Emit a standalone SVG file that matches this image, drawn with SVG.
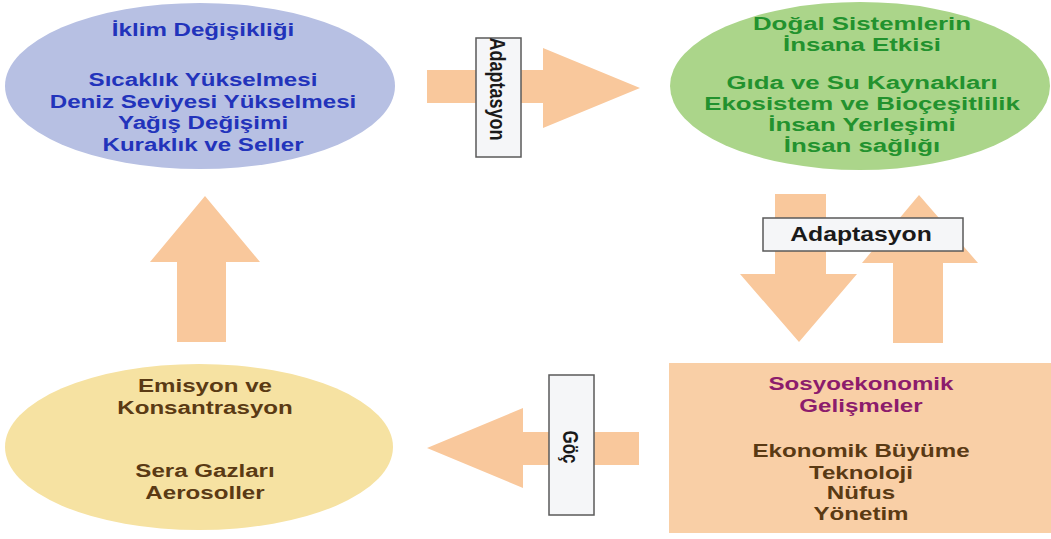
<svg xmlns="http://www.w3.org/2000/svg" width="1051" height="539" viewBox="0 0 1051 539">
<style>
text{font-family:"Liberation Sans",Arial,sans-serif;font-weight:bold;text-anchor:middle}
.arrow{fill:#f9c89c}
.lbl{fill:#f5f6f8;stroke:#5a5a5a;stroke-width:1.5}
.lt{fill:#1a1a1a;font-size:19px}
.blue{fill:#2233bb;font-size:19px}
.green{fill:#22922e;font-size:19px}
.brown{fill:#5a3a14;font-size:19px}
.mag{fill:#8c1c6c;font-size:19px}
</style>
<rect width="1051" height="539" fill="#ffffff"/>
<g id="connectors">
  <polygon class="arrow" points="427,70 543,70 543,48 640,88 543,128 543,103 427,103"/>
  <rect class="lbl" x="476" y="38" width="45" height="119"/>
  <text class="lt" transform="translate(498,89) scale(1.27,1) rotate(90)" dy="0.36em" style="font-size:18px">Adaptasyon</text>
  <polygon class="arrow" points="775,194 826,194 826,274 857,274 799,342 740,274 775,274"/>
  <polygon class="arrow" points="893,343 943,343 943,263 978,263 919,195 862,263 893,263"/>
  <rect class="lbl" x="763" y="218" width="200" height="33"/>
  <text class="lt" transform="translate(861,241) scale(1.27,1)" x="0" y="0" style="font-size:19.5px">Adaptasyon</text>
  <polygon class="arrow" points="177,342 226,342 226,262 260,262 205,196 150,262 177,262"/>
  <polygon class="arrow" points="639,432 639,465 523,465 523,488 427,448 523,408 523,432"/>
  <rect class="lbl" x="549" y="375" width="45" height="140"/>
  <text class="lt" transform="translate(571,447) scale(1.27,1) rotate(90)" dy="0.36em" style="font-size:17px">Göç</text>
</g>
<g id="climate">
  <ellipse cx="200" cy="86" rx="195" ry="83" fill="#b7c0e3"/>
  <g transform="translate(203,0) scale(1.27,1)">
    <text class="blue" x="0" y="36">İklim Değişikliği</text>
    <text class="blue" x="0" y="86">Sıcaklık Yükselmesi</text>
    <text class="blue" x="0" y="108">Deniz Seviyesi Yükselmesi</text>
    <text class="blue" x="0" y="129">Yağış Değişimi</text>
    <text class="blue" x="0" y="151">Kuraklık ve Seller</text>
  </g>
</g>
<g id="natural">
  <ellipse cx="860" cy="86" rx="190" ry="84" fill="#abd58a"/>
  <g transform="translate(862,0) scale(1.36,1)">
    <text class="green" x="0" y="30">Doğal Sistemlerin</text>
    <text class="green" x="0" y="51">İnsana Etkisi</text>
    <text class="green" x="0" y="89">Gıda ve Su Kaynakları</text>
    <text class="green" x="0" y="110">Ekosistem ve Bioçeşitlilik</text>
    <text class="green" x="0" y="131">İnsan Yerleşimi</text>
    <text class="green" x="0" y="152">İnsan sağlığı</text>
  </g>
</g>
<g id="emission">
  <ellipse cx="199" cy="447" rx="194" ry="83" fill="#f6e2a2"/>
  <g transform="translate(205,0) scale(1.27,1)">
    <text class="brown" x="0" y="392">Emisyon ve</text>
    <text class="brown" x="0" y="414">Konsantrasyon</text>
    <text class="brown" x="0" y="477">Sera Gazları</text>
    <text class="brown" x="0" y="499">Aerosoller</text>
  </g>
</g>
<g id="socio">
  <rect x="669" y="363" width="382" height="170" fill="#f9cfa6"/>
  <g transform="translate(861,0) scale(1.27,1)">
    <text class="mag" x="0" y="390">Sosyoekonomik</text>
    <text class="mag" x="0" y="412">Gelişmeler</text>
    <text class="brown" x="0" y="457">Ekonomik Büyüme</text>
    <text class="brown" x="0" y="479">Teknoloji</text>
    <text class="brown" x="0" y="499">Nüfus</text>
    <text class="brown" x="0" y="520">Yönetim</text>
  </g>
</g>
</svg>
